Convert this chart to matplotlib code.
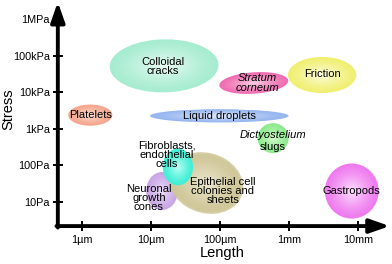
import numpy as np
import matplotlib
matplotlib.use("Agg")
import matplotlib.pyplot as plt
from matplotlib.patches import Ellipse
from matplotlib.colors import to_rgb

plt.rcParams['font.family'] = ['Liberation Sans', 'DejaVu Sans']

# eixos em décadas: x = log10(comprimento / 1 µm), y = log10(tensão / 1 Pa)
x_ticks = [0, 1, 2, 3, 4]
x_labels = ['1µm', '10µm', '100µm', '1mm', '10mm']
y_ticks = [1, 2, 3, 4, 5, 6]
y_labels = ['10Pa', '100Pa', '1kPa', '10kPa', '100kPa', '1MPa']

# regiões (elipses) em décadas
names = ['Neuronal', 'Epithelial', 'Fibroblasts', 'Colloidal', 'Stratum',
         'Friction', 'Platelets', 'Liquid', 'Dicty', 'Gastropods']
cx = [1.16, 1.80, 1.39, 1.19, 2.49, 3.48, 0.12, 1.99, 2.77, 3.91]
cy = [1.30, 1.52, 1.96, 4.73, 4.26, 4.48, 3.38, 3.36, 2.75, 1.30]
wx = [0.46, 1.06, 0.44, 1.58, 1.01, 0.99, 0.64, 2.01, 0.45, 0.78]
hy = [1.04, 1.70, 1.01, 1.45, 0.58, 0.99, 0.58, 0.36, 0.82, 1.51]
ang = [0, 8, 0, 10, 10, 0, 0, 0, 0, 0]

edge_col = ['#c9a6e6', '#cfc697', '#3ff0d6', '#a6ecd0', '#ef6fb2',
            '#f0ef72', '#f4a68e', '#96b6f0', '#8eea8e', '#ef7bef']
mid_col = ['#efe2fa', '#eee9d2', '#c4fff5', '#ecfcf5', '#fbd2e6',
           '#fefde6', '#fde4d6', '#e6eefc', '#d8fad0', '#fde6fd']
alpha = [1.0, 0.85, 0.9, 1, 1, 1, 1, 1, 1, 1]

# rótulos
lab_text = ['Neuronal\ngrowth\ncones', 'Epithelial cell\ncolonies and\nsheets',
            'Fibroblasts,\nendothelial\ncells', 'Colloidal\ncracks',
            'Stratum\ncorneum', 'Friction', 'Platelets', 'Liquid droplets',
            'Dictyostelium\nslugs', 'Gastropods']
lab_x = [0.97, 2.04, 1.23, 1.17, 2.54, 3.48, 0.12, 1.99, 2.77, 3.91]
lab_y = [1.11, 1.30, 2.29, 4.71, 4.26, 4.51, 3.38, 3.36, 2.67, 1.30]
lab_italic = [False, False, False, False, True, False, False, False, 'first', False]

fig = plt.figure(figsize=(3.92, 2.64), dpi=100)
ax = fig.add_axes([0, 0, 1, 1])
ax.set_xlim(-1.188, 4.493)
ax.set_ylim(-0.699, 6.534)

# elipses com gradiente radial
for i in range(len(names)):
    c0 = np.array(to_rgb(edge_col[i]))
    c1 = np.array(to_rgb(mid_col[i]))
    for f in np.linspace(1.0, 0.08, 18):
        t = (1 - f) ** 1.3
        col = c0 * (1 - t) + c1 * t
        ax.add_patch(Ellipse((cx[i], cy[i]), wx[i] * f, hy[i] * f, angle=ang[i],
                             facecolor=col, edgecolor='none', alpha=alpha[i],
                             zorder=2 + i * 0.01))

fs = 8
for i in range(len(names)):
    if lab_italic[i] == 'first':
        first, second = lab_text[i].split('\n')
        ax.text(lab_x[i], lab_y[i] + 0.17, first, style='italic', ha='center',
                va='center', fontsize=fs, zorder=5)
        ax.text(lab_x[i], lab_y[i] - 0.17, second, ha='center', va='center',
                fontsize=fs, zorder=5)
    else:
        ax.text(lab_x[i], lab_y[i], lab_text[i], ha='center', va='center',
                fontsize=fs, linespacing=0.92, zorder=5,
                style='italic' if lab_italic[i] else 'normal')

# eixos com setas
x0, y0 = -0.35, 0.34
for s in ['top', 'right', 'left', 'bottom']:
    ax.spines[s].set_visible(False)
ax.spines['left'].set_position(('data', x0))
ax.spines['bottom'].set_position(('data', y0))
arrow = dict(arrowstyle='-|>,head_length=1.2,head_width=0.42', lw=2.8,
             color='black', mutation_scale=10, shrinkA=0, shrinkB=0)
ax.annotate('', xy=(x0, 6.48), xytext=(x0, y0 - 0.04), arrowprops=arrow, zorder=6)
ax.annotate('', xy=(4.46, y0), xytext=(x0 - 0.02, y0), arrowprops=arrow, zorder=6)

ax.set_xticks(x_ticks, x_labels, fontsize=7.8)
ax.set_yticks(y_ticks, y_labels, fontsize=7.8)
ax.tick_params(direction='inout', length=7.5, width=1.4, pad=2, colors='black')
ax.tick_params(axis='x', pad=2.5)

ax.text(-1.06, 3.55, 'Stress', rotation=90, ha='center', va='center', fontsize=10.5)
ax.text(2.03, -0.41, 'Length', ha='center', va='center', fontsize=10.5)

fig.savefig('out.png', dpi=100)
